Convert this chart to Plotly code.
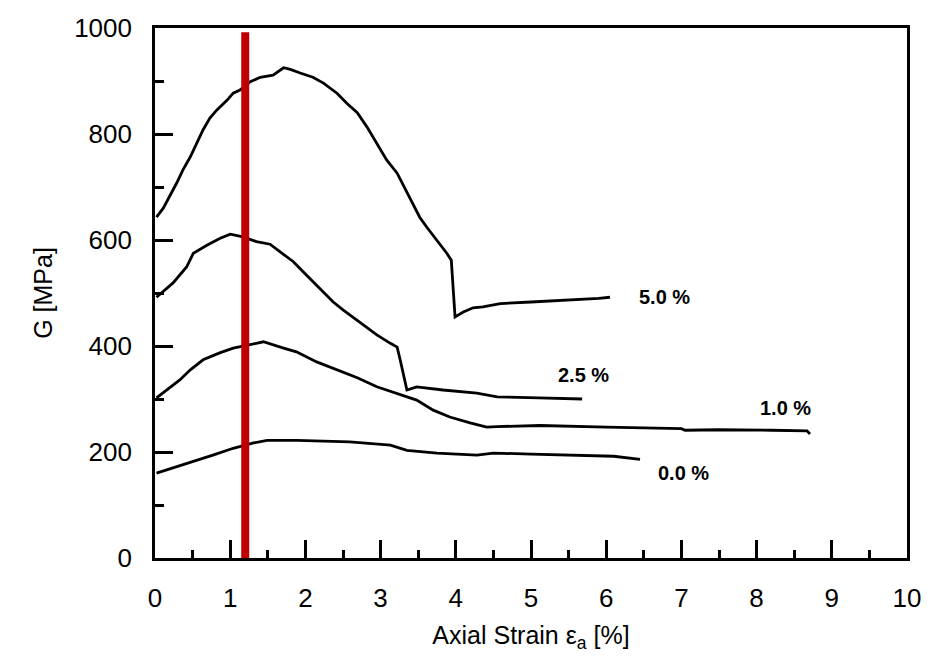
import plotly.graph_objects as go

# ---- data ----
x_50 = [0.02, 0.11, 0.29, 0.37, 0.47, 0.56, 0.64, 0.73, 0.82, 0.96, 1.04, 1.13, 1.26, 1.40, 1.57, 1.71, 1.80,
        1.93, 2.10, 2.24, 2.42, 2.55, 2.69, 2.82, 2.95, 3.08, 3.22, 3.35, 3.52, 3.61, 3.75, 3.88, 3.94, 3.97,
        3.99, 4.10, 4.23, 4.36, 4.59, 5.00, 5.38, 5.65, 5.90, 6.05]
y_50 = [643, 660, 708, 732, 757, 783, 808, 830, 845, 864, 877, 883, 898, 907, 911, 925, 922,
        915, 907, 896, 877, 858, 840, 813, 783, 751, 726, 689, 643, 625, 600, 575, 562, 500,
        455, 464, 472, 474, 480, 483, 486, 487, 490, 492]

x_25 = [0.02, 0.24, 0.42, 0.51, 0.69, 0.86, 1.00, 1.17, 1.35, 1.53, 1.66, 1.84, 1.97, 2.10, 2.24, 2.37, 2.50,
        2.64, 2.77, 2.95, 3.13, 3.22, 3.26, 3.30, 3.35, 3.48, 3.83, 4.28, 4.55, 5.10, 5.68]
y_25 = [492, 519, 549, 575, 590, 603, 611, 606, 597, 592, 578, 559, 540, 521, 502, 483, 468,
        453, 440, 421, 405, 398, 374, 349, 317, 323, 317, 311, 304, 302, 300]

x_10 = [0.02, 0.16, 0.33, 0.47, 0.64, 0.86, 1.04, 1.25, 1.44, 1.71, 1.88, 2.15, 2.42, 2.69, 2.95, 3.22, 3.48,
        3.70, 3.92, 4.19, 4.41, 4.55, 5.12, 6.00, 7.00, 7.05, 7.50, 8.20, 8.67, 8.71]
y_10 = [302, 317, 336, 355, 374, 387, 396, 402, 408, 396, 389, 370, 355, 340, 323, 311, 298,
        279, 266, 255, 247, 248, 250, 247, 244, 241, 242, 241, 240, 234]

x_00 = [0.02, 0.24, 0.51, 0.77, 1.04, 1.31, 1.49, 1.89, 2.59, 3.13, 3.35, 3.75, 4.28, 4.50, 5.00, 5.60,
        6.10, 6.45]
y_00 = [160, 170, 181, 194, 207, 217, 222, 222, 219, 213, 203, 198, 194, 198, 196, 194,
        192, 186]

ref_x = [1.2, 1.2]
ref_y = [0, 992]

curve_labels = ["5.0 %", "2.5 %", "1.0 %", "0.0 %"]
label_x = [6.77, 5.70, 8.38, 7.03]
label_y = [492, 345, 283, 160]

x_range = [0, 10]
y_range = [0, 1000]
x_major_step = 1
x_minor_step = 0.5
y_major_step = 200
y_minor_step = 100

fig = go.Figure()
for xs, ys in [(x_50, y_50), (x_25, y_25), (x_10, y_10), (x_00, y_00)]:
    fig.add_trace(go.Scatter(x=xs, y=ys, mode="lines",
                             line=dict(color="black", width=2.8), showlegend=False))

fig.add_trace(go.Scatter(x=ref_x, y=ref_y, mode="lines",
                         line=dict(color="#C00000", width=8), showlegend=False))

# invisible trace to carry the label axes
fig.add_trace(go.Scatter(x=x_range, y=y_range, xaxis="x2", yaxis="y2", mode="lines",
                         line=dict(width=0), opacity=0, hoverinfo="skip", showlegend=False))

for t, lx, ly in zip(curve_labels, label_x, label_y):
    fig.add_annotation(x=lx, y=ly, text="<b>" + t + "</b>", showarrow=False,
                       font=dict(family="Liberation Sans, Arial", size=20, color="black"))

tick_font = dict(family="Liberation Sans, Arial", size=26, color="black")
title_font = dict(family="Liberation Sans, Arial", size=25, color="black")

fig.update_layout(
    width=938, height=661,
    margin=dict(l=155, r=31, t=28, b=103),
    paper_bgcolor="white", plot_bgcolor="white",
    # frame + major / minor ticks
    xaxis=dict(range=x_range, tickmode="linear", tick0=0, dtick=x_major_step,
               showgrid=False, zeroline=False, showline=True, linecolor="black", linewidth=3,
               mirror=True, ticks="inside", ticklen=18, tickwidth=3, tickcolor="black",
               showticklabels=False,
               minor=dict(ticks="inside", ticklen=8, tickwidth=3, tickcolor="black",
                          dtick=x_minor_step, tick0=0, showgrid=False)),
    yaxis=dict(range=y_range, tickmode="linear", tick0=0, dtick=y_major_step,
               showgrid=False, zeroline=False, showline=True, linecolor="black", linewidth=3,
               mirror=True, ticks="inside", ticklen=18, tickwidth=3, tickcolor="black",
               showticklabels=False,
               minor=dict(ticks="inside", ticklen=9, tickwidth=3, tickcolor="black",
                          dtick=y_minor_step, tick0=0, showgrid=False)),
    # tick labels + titles
    xaxis2=dict(range=x_range, overlaying="x", side="bottom", anchor="y2",
                tickmode="linear", tick0=0, dtick=x_major_step,
                showgrid=False, zeroline=False, showline=False, ticks="",
                tickfont=tick_font, ticklabelstandoff=22,
                title=dict(text="Axial Strain ε<sub>a</sub> [%]", standoff=14, font=title_font)),
    yaxis2=dict(range=y_range, overlaying="y", side="left", anchor="x2",
                tickmode="linear", tick0=0, dtick=y_major_step,
                showgrid=False, zeroline=False, showline=False, ticks="",
                tickfont=tick_font, ticklabelstandoff=22,
                title=dict(text="G [MPa]", standoff=14, font=title_font)),
)

fig.write_html("out.html")
